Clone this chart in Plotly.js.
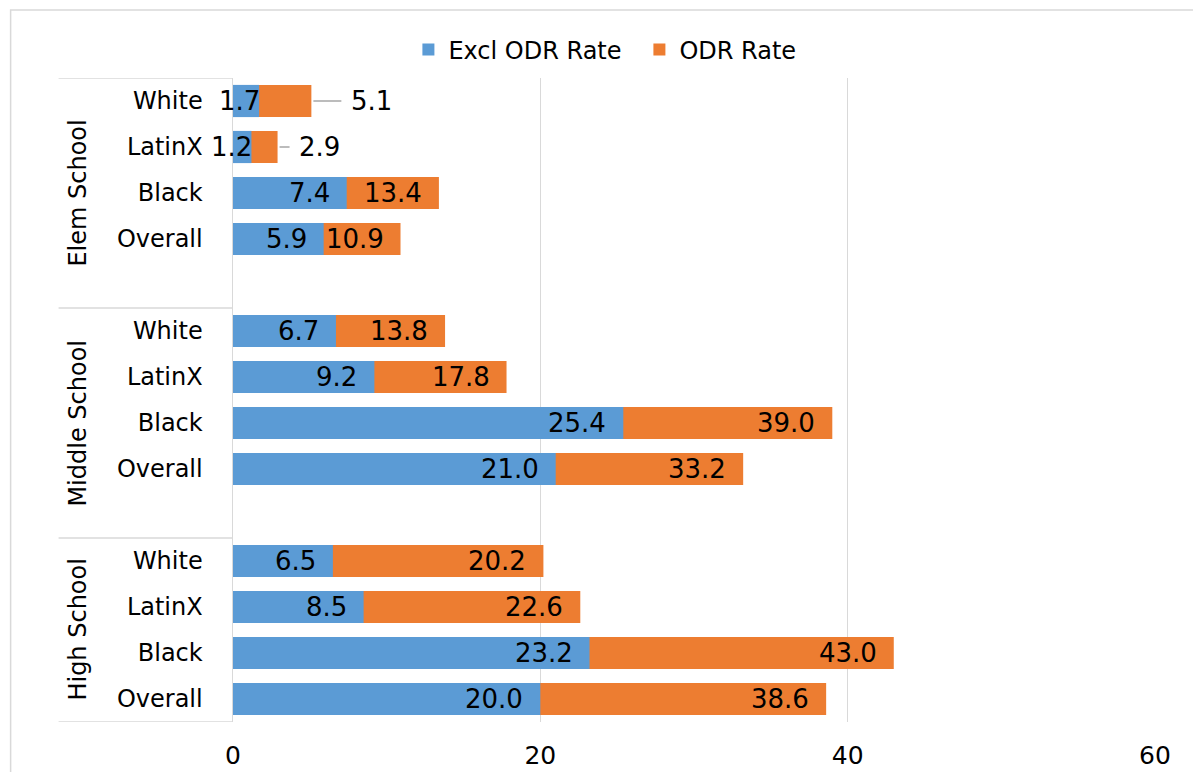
<!DOCTYPE html>
<html>
<head>
<meta charset="utf-8">
<script src="https://cdn.plot.ly/plotly-3.0.1.min.js"></script>
<style>html,body{margin:0;padding:0;background:#fff;}#chart{width:1193px;height:772px;}</style>
</head>
<body>
<div id="chart"></div>
<script>
// ---- data ----
var groups = ['Elem School', 'Middle School', 'High School'];
var races = ['White', 'LatinX', 'Black', 'Overall'];
var exclElem = [1.7, 1.2, 7.4, 5.9];
var exclMiddle = [6.7, 9.2, 25.4, 21.0];
var exclHigh = [6.5, 8.5, 23.2, 20.0];
var odrElem = [5.1, 2.9, 13.4, 10.9];
var odrMiddle = [13.8, 17.8, 39.0, 33.2];
var odrHigh = [20.2, 22.6, 43.0, 38.6];
var xTicks = [0, 20, 40, 60];

// ---- layout helpers ----
var excl = [exclElem, exclMiddle, exclHigh];
var odr = [odrElem, odrMiddle, odrHigh];
var BLUE = '#5B9BD5', ORANGE = '#ED7D31', GRID = '#d9d9d9';
var FONT = 'DejaVu Sans, sans-serif';
var L = 232.5, R = 38, T = 78, B = 50, W = 1193, H = 772;
var pw = W - L - R, ph = H - T - B;
var xMax = 60;
var pxPerUnit = pw / xMax;
var slot = races.length + 1;

var yPos = [], yTickText = [], xExcl = [], xOdr = [];
groups.forEach(function (g, gi) {
  races.forEach(function (r, ri) {
    yPos.push(gi * slot + ri);
    yTickText.push(r);
    xExcl.push(excl[gi][ri]);
    xOdr.push(odr[gi][ri]);
  });
});
var yMax = (groups.length - 1) * slot + races.length - 1;

var traces = [
  {type: 'bar', orientation: 'h', name: 'ODR Rate', x: xOdr, y: yPos,
   marker: {color: ORANGE}, width: 0.7, legendrank: 2, hoverinfo: 'skip'},
  {type: 'bar', orientation: 'h', name: 'Excl ODR Rate', x: xExcl, y: yPos,
   marker: {color: BLUE}, width: 0.7, legendrank: 1, hoverinfo: 'skip'}
];

var labelFont = {family: FONT, size: 26, color: '#000'};
var annotations = [];
// leader-line offsets (px) for labels that do not fit
var leaderOffset = {'0|0': 60, '0|1': 42};
for (var i = 0; i < yPos.length; i++) {
  var gi = Math.floor(i / races.length), ri = i % races.length;
  var e = xExcl[i], o = xOdr[i];
  // blue label
  var fitsBlue = e * pxPerUnit > 55;
  annotations.push({x: e, y: yPos[i], xref: 'x', yref: 'y', text: e.toFixed(1),
    showarrow: false, xanchor: 'right', xshift: fitsBlue ? -15 : 3, font: labelFont});
  // orange label
  var segPx = (o - e) * pxPerUnit;
  if (segPx > 60) {
    annotations.push({x: o, y: yPos[i], xref: 'x', yref: 'y', text: o.toFixed(1),
      showarrow: false, xanchor: 'right', xshift: -15, font: labelFont});
  } else {
    var off = leaderOffset[gi + '|' + ri] || 50;
    annotations.push({x: o, y: yPos[i], xref: 'x', yref: 'y', text: o.toFixed(1),
      showarrow: true, ax: off, ay: 0, arrowhead: 0, arrowwidth: 1.5, arrowcolor: '#a6a6a6',
      standoff: 2, startstandoff: 8, font: labelFont});
  }
}
// group labels
groups.forEach(function (g, gi) {
  var top = gi * slot - 0.5;
  var bot = Math.min(gi * slot + slot - 0.5, yMax + 0.5);
  annotations.push({xref: 'paper', yref: 'y', x: (77 - L) / pw, y: (top + bot) / 2,
    text: g, textangle: -90, showarrow: false, xanchor: 'center', yanchor: 'middle',
    font: {family: FONT, size: 24, color: '#000'}});
});

var shapes = [];
// outer chart border
shapes.push({type: 'rect', xref: 'paper', yref: 'paper', x0: (10 - L) / pw, x1: 1.3,
  y0: -0.3, y1: 1 + (T - 10) / ph, line: {color: GRID, width: 1.5}, layer: 'below'});
// group dividers
var divs = [];
groups.forEach(function (g, gi) { divs.push(gi * slot - 0.5); });
divs.push(yMax + 0.5);
divs.forEach(function (d) {
  shapes.push({type: 'line', xref: 'paper', yref: 'y', x0: (58 - L) / pw, x1: 0,
    y0: d, y1: d, line: {color: GRID, width: 1.5}});
});

var layout = {
  width: W, height: H,
  margin: {l: L, r: R, t: T, b: B, pad: 0},
  paper_bgcolor: '#fff', plot_bgcolor: '#fff',
  barmode: 'overlay',
  showlegend: true,
  legend: {orientation: 'h', x: (408 - L) / pw, xanchor: 'left', y: 1 + (T - 50) / ph, yanchor: 'middle',
    font: {family: FONT, size: 24, color: '#000'}, bgcolor: 'rgba(0,0,0,0)',
    entrywidth: 186, entrywidthmode: 'pixels'},
  xaxis: {range: [0, xMax], tickvals: xTicks, ticktext: xTicks.map(String),
    showgrid: true, gridcolor: GRID, gridwidth: 1.5, zeroline: false, showline: false,
    ticks: '', ticklabelstandoff: 16, tickfont: {family: FONT, size: 25, color: '#000'},
    fixedrange: true},
  yaxis: {range: [yMax + 0.5, -0.5], tickvals: yPos, ticktext: yTickText,
    showgrid: false, zeroline: false, showline: true, linecolor: GRID, linewidth: 1.5,
    ticks: '', ticklabelstandoff: 24, tickfont: {family: FONT, size: 24, color: '#000'},
    fixedrange: true},
  annotations: annotations,
  shapes: shapes,
  hovermode: false
};

Plotly.newPlot('chart', traces, layout, {displayModeBar: false, staticPlot: true});
</script>
</body>
</html>
